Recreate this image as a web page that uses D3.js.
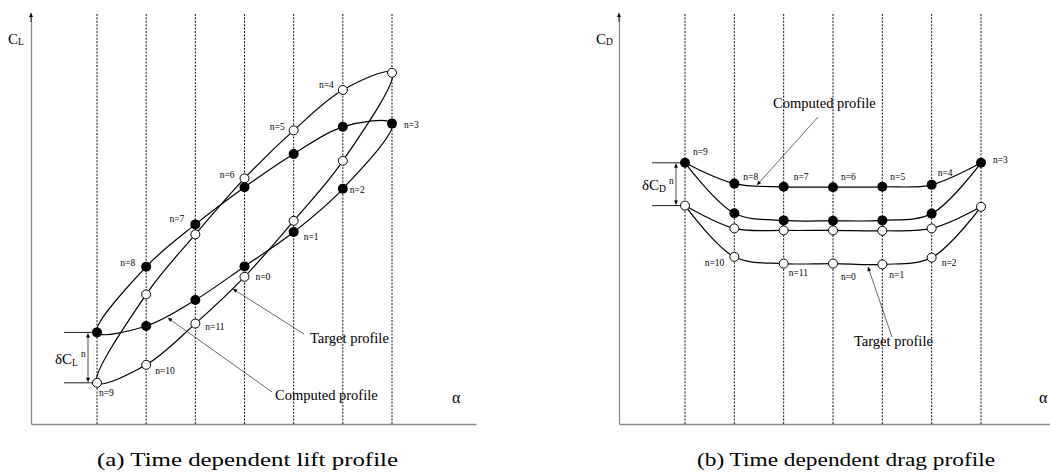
<!DOCTYPE html>
<html>
<head>
<meta charset="utf-8">
<script src="https://cdn.jsdelivr.net/npm/d3@7"></script>
<style>
  body { margin: 0; background: #fff; }
  svg { display: block; }
  text { font-family: "Liberation Serif", "Times New Roman", serif; fill: #000; }
</style>
</head>
<body>
<svg id="fig" width="1050" height="473"></svg>
<script>
// Time levels n = 0..11 over one oscillation cycle and the alpha station of each level
const timeLevels = d3.range(12);
const alphaStation = [3, 4, 5, 6, 5, 4, 3, 2, 1, 0, 1, 2];
const stationIndex = d3.range(7);

// Lift coefficient per time level (arbitrary units)
const liftTarget   = [3.68, 5.08, 6.58, 8.78, 8.35, 7.34, 6.14, 4.74, 3.24, 1.03, 1.48, 2.51];
const liftComputed = [3.94, 4.80, 5.88, 7.51, 7.43, 6.75, 5.92, 4.99, 3.93, 2.29, 2.45, 3.10];

// Drag coefficient per time level (arbitrary units)
const dragTarget   = [4.01, 3.99, 4.16, 5.43, 4.89, 4.83, 4.84, 4.84, 4.89, 5.46, 4.18, 4.01];
const dragComputed = [5.08, 5.09, 5.26, 6.53, 5.98, 5.93, 5.92, 5.93, 6.01, 6.53, 5.27, 5.09];

// Drag loop is drawn as two branches meeting at the extreme stations
const dragUpperOrder = [9, 8, 7, 6, 5, 4, 3];
const dragLowerOrder = [3, 2, 1, 0, 11, 10, 9];

// Level at which the deviation bracket is drawn
const bracketLevel = 9;

const captions = ["(a) Time dependent lift profile", "(b) Time dependent drag profile"];

const svg = d3.select("#fig");

// Arrowhead markers
const defs = svg.append("defs");
defs.append("marker").attr("id", "tip")
  .attr("viewBox", "0 0 10 10").attr("refX", 10).attr("refY", 5)
  .attr("markerWidth", 6).attr("markerHeight", 4)
  .attr("markerUnits", "userSpaceOnUse").attr("orient", "auto-start-reverse")
  .append("path").attr("d", "M0,0L10,5L0,10z").attr("fill", "#000");
defs.append("marker").attr("id", "axisTip")
  .attr("viewBox", "0 0 10 10").attr("refX", 10).attr("refY", 5)
  .attr("markerWidth", 5).attr("markerHeight", 4)
  .attr("markerUnits", "userSpaceOnUse").attr("orient", "auto")
  .append("path").attr("d", "M0,0L10,5L0,10z").attr("fill", "#000");

function drawPanel(cfg) {
  const g = svg.append("g");
  const x = d3.scaleLinear().domain([0, 6]).range(cfg.stationRange);
  const y = d3.scaleLinear().domain([0, 10]).range([424, 24]);
  const xAxisScale = x.copy().domain([x.invert(cfg.originX), x.invert(cfg.axisEnd)]).range([cfg.originX, cfg.axisEnd]);
  const yAxisScale = y.copy().domain([0, y.invert(15)]).range([424, 15]);

  // Axes
  const xa = g.append("g").attr("transform", "translate(0,424)")
    .call(d3.axisBottom(xAxisScale).tickValues([]).tickSizeOuter(0));
  xa.select(".domain").attr("stroke", "#8a8a8a").attr("stroke-width", 1.3);
  const ya = g.append("g").attr("transform", `translate(${cfg.originX},0)`)
    .call(d3.axisLeft(yAxisScale).tickValues([]).tickSizeOuter(0));
  ya.select(".domain").attr("stroke", "#8a8a8a").attr("stroke-width", 1.3);
  g.append("line")
    .attr("x1", cfg.originX).attr("x2", cfg.originX)
    .attr("y1", 22).attr("y2", 13)
    .attr("stroke", "#000").attr("stroke-width", 0.8)
    .attr("marker-end", "url(#axisTip)");

  // Stations along alpha
  g.selectAll("line.station").data(stationIndex).join("line")
    .attr("class", "station")
    .attr("x1", d => x(d)).attr("x2", d => x(d))
    .attr("y1", 14).attr("y2", 424)
    .attr("stroke", "#111").attr("stroke-width", 1)
    .attr("stroke-dasharray", "2,1.4");

  // Axis names
  const yl = g.append("text").attr("x", cfg.originX - 23).attr("y", 44).attr("font-size", 15);
  yl.append("tspan").text("C");
  yl.append("tspan").attr("font-size", 9.5).attr("dy", 1).text(cfg.sub);
  g.append("text").attr("x", cfg.alphaX).attr("y", 403)
    .attr("font-size", 16).text("α");

  // Profiles
  const line = cfg.closed
    ? d3.line().x(n => x(alphaStation[n])).curve(d3.curveCatmullRomClosed.alpha(0.5))
    : d3.line().x(n => x(alphaStation[n])).curve(d3.curveCatmullRom.alpha(0.5));
  const series = [cfg.target, cfg.computed];
  series.forEach(vals => {
    const gen = line.y(n => y(vals[n]));
    if (cfg.closed) {
      g.append("path").attr("d", gen(timeLevels))
        .attr("fill", "none").attr("stroke", "#000").attr("stroke-width", 1.2);
    } else {
      [dragUpperOrder, dragLowerOrder].forEach(order => {
        g.append("path").attr("d", gen(order))
          .attr("fill", "none").attr("stroke", "#000").attr("stroke-width", 1.2);
      });
    }
  });

  // Markers: open = target, filled = computed
  g.selectAll("circle.tgt").data(timeLevels).join("circle")
    .attr("class", "tgt")
    .attr("cx", n => x(alphaStation[n])).attr("cy", n => y(cfg.target[n]))
    .attr("r", 4.5).attr("fill", "#fff").attr("stroke", "#000").attr("stroke-width", 1);
  g.selectAll("circle.cmp").data(timeLevels).join("circle")
    .attr("class", "cmp")
    .attr("cx", n => x(alphaStation[n])).attr("cy", n => y(cfg.computed[n]))
    .attr("r", 5).attr("fill", "#000");

  // Time level labels
  timeLevels.forEach(n => {
    const [which, dx, dy, anchor] = cfg.labelPlace[n];
    const vals = which === "t" ? cfg.target : cfg.computed;
    g.append("text")
      .attr("x", x(alphaStation[n]) + dx).attr("y", y(vals[n]) + dy)
      .attr("text-anchor", anchor).attr("font-size", 9.5)
      .text(`n=${n}`);
  });

  // Deviation bracket at the chosen level
  const bx = x(alphaStation[bracketLevel]);
  const yc = y(cfg.computed[bracketLevel]);
  const yt = y(cfg.target[bracketLevel]);
  [yc, yt].forEach(v => {
    g.append("line").attr("x1", bx - 33).attr("x2", bx - 4).attr("y1", v).attr("y2", v)
      .attr("stroke", "#000").attr("stroke-width", 0.9);
  });
  g.append("line").attr("x1", bx - 9).attr("x2", bx - 9).attr("y1", yc + 1).attr("y2", yt - 1)
    .attr("stroke", "#000").attr("stroke-width", 0.7)
    .attr("marker-start", "url(#tip)").attr("marker-end", "url(#tip)");
  const dl = g.append("text").attr("x", bx + cfg.deltaDx).attr("y", (yc + yt) / 2 + 6).attr("font-size", 15);
  dl.append("tspan").text("δC");
  dl.append("tspan").attr("font-size", 9.5).attr("dy", 2).text(cfg.sub);
  dl.append("tspan").attr("font-size", 9.5).attr("dy", -8.5).attr("dx", 3).text("n");

  // Profile annotations
  cfg.notes.forEach(a => {
    const tx = x(a.text[0]), ty = y(a.text[1]);
    g.append("line")
      .attr("x1", tx + a.tail[0]).attr("y1", ty + a.tail[1])
      .attr("x2", x(a.tip[0])).attr("y2", y(a.tip[1]))
      .attr("stroke", "#000").attr("stroke-width", 0.6)
      .attr("marker-end", "url(#tip)");
    g.append("text").attr("x", tx).attr("y", ty).attr("font-size", 14.5).text(a.label);
  });

  // Caption
  g.append("text").attr("x", cfg.captionX).attr("y", 466)
    .attr("font-size", 18.5).attr("textLength", cfg.captionW).attr("lengthAdjust", "spacingAndGlyphs")
    .text(cfg.caption);
}

drawPanel({
  originX: 31, axisEnd: 476, alphaX: 452, stationRange: [97, 392], sub: "L", closed: true,
  target: liftTarget, computed: liftComputed, deltaDx: -42,
  labelPlace: {
    0: ["t", 11, 3, "start"], 1: ["c", 10, 8, "start"], 2: ["c", 7, 4, "start"],
    3: ["c", 12, 4, "start"], 4: ["t", -9, -2, "end"], 5: ["t", -9, 0, "end"],
    6: ["t", -10, 0, "end"], 7: ["c", -11, -2, "end"], 8: ["c", -11, -1, "end"],
    9: ["t", 2, 13, "start"], 10: ["t", 9, 9, "start"], 11: ["t", 10, 6, "start"]
  },
  notes: [
    { label: "Target profile", text: [4.332, 2.025], tail: [-6, -9], tip: [2.766, 3.375] },
    { label: "Computed profile", text: [3.62, 0.6], tail: [-3, -8], tip: [1.444, 2.65] }
  ],
  caption: captions[0], captionX: 97, captionW: 301
});

drawPanel({
  originX: 619, axisEnd: 1050, alphaX: 1039, stationRange: [685, 981], sub: "D", closed: false,
  target: dragTarget, computed: dragComputed, deltaDx: -43,
  labelPlace: {
    0: ["t", 8, 16, "start"], 1: ["t", 7, 14, "start"], 2: ["t", 10, 8, "start"],
    3: ["c", 12, 0, "start"], 4: ["c", 6, -9, "start"], 5: ["c", 8, -7, "start"],
    6: ["c", 8, -7, "start"], 7: ["c", 10, -7, "start"], 8: ["c", 9, -4, "start"],
    9: ["c", 8, -8, "start"], 10: ["t", -10, 9, "end"], 11: ["t", 5, 12, "start"]
  },
  notes: [
    { label: "Computed profile", text: [1.784, 7.9], tail: [45, 9], tip: [1.46, 5.975] },
    { label: "Target profile", text: [3.426, 1.95], tail: [38, -9], tip: [3.71, 3.925] }
  ],
  caption: captions[1], captionX: 697, captionW: 298
});
</script>
</body>
</html>
